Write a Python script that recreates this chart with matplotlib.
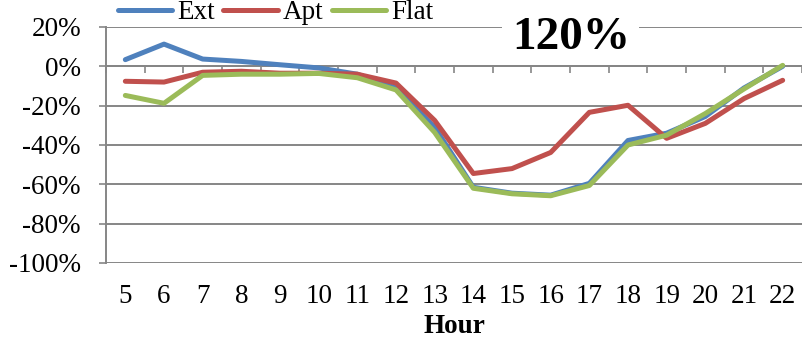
import numpy as np
import matplotlib
matplotlib.use("Agg")
import matplotlib.pyplot as plt
from matplotlib.patches import Rectangle

# Data
hours = [5, 6, 7, 8, 9, 10, 11, 12, 13, 14, 15, 16, 17, 18, 19, 20, 21, 22]
ext = [3.4, 11.3, 3.7, 2.5, 0.8, -0.8, -4.0, -11.0, -31.0, -61.5, -64.5, -65.5, -59.5, -37.7, -34.0, -25.5, -11.0, 0.0]
apt = [-7.6, -8.0, -3.0, -2.5, -3.5, -3.5, -4.0, -8.5, -27.5, -54.5, -52.0, -43.8, -23.4, -19.8, -36.6, -29.0, -16.4, -7.1]
flat = [-14.8, -18.8, -4.6, -4.0, -4.0, -3.6, -5.8, -12.0, -33.6, -62.0, -64.8, -65.8, -60.6, -40.0, -35.0, -24.0, -11.5, 0.5]
yticks = [20, 0, -20, -40, -60, -80, -100]

plt.rcParams['font.family'] = ['Liberation Serif', 'DejaVu Serif']
plt.rcParams['font.size'] = 19.5

grid_c = "#868686"

fig = plt.figure(figsize=(8.03, 3.43), dpi=100)
ax = fig.add_axes([106 / 803, 1 - 263 / 343, 696 / 803, 236 / 343])

for vals, color, label in [(ext, "#4F81BD", "Ext"), (apt, "#C0504D", "Apt"), (flat, "#9BBB59", "Flat")]:
    ax.plot(hours, vals, color=color, lw=3.6, label=label, solid_capstyle='round', zorder=3)

ax.set_xlim(4.5, 22.5)
ax.set_ylim(-100, 20)
ax.set_yticks(yticks)
ax.set_yticklabels([f"{v}%" for v in yticks])
ax.yaxis.grid(True, color=grid_c, lw=1.4)
ax.set_axisbelow(True)
ax.tick_params(axis='y', length=5, width=1.2, color=grid_c, pad=13)

for s in ['top', 'right']:
    ax.spines[s].set_visible(False)
ax.spines['left'].set_color(grid_c)
ax.spines['left'].set_linewidth(1.4)
ax.spines['bottom'].set_position(('data', 0))
ax.spines['bottom'].set_color(grid_c)
ax.spines['bottom'].set_linewidth(1.4)

# category boundary ticks on the zero line
ax.set_xticks(np.arange(4.5, 23, 1.0))
ax.tick_params(axis='x', length=5, width=1.2, color=grid_c, labelbottom=False)

# hour labels at the bottom
sec = ax.secondary_xaxis(0)
sec.set_xticks(hours)
sec.set_xticklabels([str(h) for h in hours])
sec.tick_params(length=0, pad=15)
sec.spines['bottom'].set_visible(False)
sec.set_xlabel("Hour", fontweight='bold', labelpad=4)

fig.legend(loc='upper left', bbox_to_anchor=(118 / 803, 1.0), ncol=3, frameon=False,
           handlelength=2.0, handletextpad=0.2, columnspacing=0.3, borderaxespad=0, borderpad=0)

# white box with big label
fig.patches.append(Rectangle((502 / 803, 1 - 65 / 343), 137 / 803, 65 / 343,
                             transform=fig.transFigure, facecolor='white', edgecolor='none', zorder=5))
fig.text(571 / 803, 1 - 38 / 343, "120%", fontsize=34, fontweight='bold', ha='center', va='center', zorder=6)

fig.savefig("out.png", dpi=100)
